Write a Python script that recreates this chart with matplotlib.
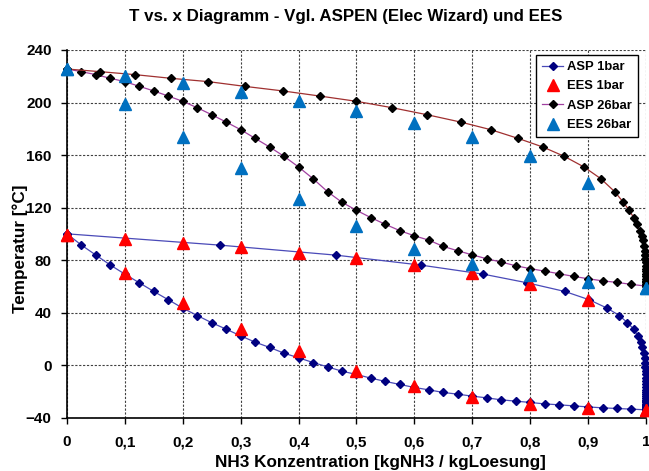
import matplotlib
matplotlib.use("Agg")
import matplotlib.pyplot as plt
from matplotlib.ticker import FuncFormatter, MultipleLocator

plt.rcParams['font.family'] = ['Liberation Sans', 'DejaVu Sans']
plt.rcParams['font.weight'] = 'bold'

# ASPEN 1 bar: Siedelinie (x steigt) und Taulinie (gleiche Temperaturen)
asp1_T = [100, 91.4, 83.8, 76.2, 69.3, 62.7, 56.1, 49.8, 43.4, 37.8, 32.3, 27.4, 22.3,
          17.5, 13.5, 9.1, 5.6, 2.0, -1.3, -4.6, -7.1, -9.9, -12.4, -14.7, -17.0, -18.8,
          -20.8, -22.1, -23.6, -24.9, -26.4, -27.4, -28.4, -29.5, -30.2, -31.0, -31.8,
          -32.5, -33.0, -33.5, -34.0]
asp1_x_liq = [0, 0.025, 0.05, 0.075, 0.1, 0.125, 0.15, 0.175, 0.2, 0.225, 0.25, 0.275, 0.3,
              0.325, 0.35, 0.375, 0.4, 0.425, 0.45, 0.475, 0.5, 0.525, 0.55, 0.575, 0.6, 0.625,
              0.65, 0.675, 0.7, 0.725, 0.75, 0.775, 0.8, 0.825, 0.85, 0.875, 0.9,
              0.925, 0.95, 0.975, 1.0]
asp1_x_vap = [0, 0.264, 0.464, 0.611, 0.719, 0.795, 0.860, 0.902, 0.933, 0.954, 0.968, 0.979, 0.986,
              0.991, 0.994, 0.996, 0.998, 0.9985, 0.999, 0.9993, 0.9995, 0.9996, 0.9997, 0.9998, 0.9998, 0.9999,
              0.9999, 0.9999, 0.9999, 1.0, 1.0, 1.0, 1.0, 1.0, 1.0, 1.0, 1.0,
              1.0, 1.0, 1.0, 1.0]

# ASPEN 26 bar
asp26_T = [225.5, 223.5, 221.2, 218.4, 215.9, 212.3, 208.8, 204.9, 200.9, 196.0, 190.7, 185.1, 179.3,
           172.7, 166.1, 159.0, 150.9, 142.0, 132.1, 124.0, 117.9, 112.3, 107.2, 102.4, 98.5, 95.2,
           90.4, 87.1, 84.0, 81.0, 78.5, 75.7, 73.5, 71.6, 69.6, 67.6, 65.8,
           64.2, 63.0, 61.5, 60.2]
asp26_x_liq = asp1_x_liq
asp26_x_vap = [0, 0.057, 0.118, 0.180, 0.244, 0.307, 0.373, 0.437, 0.500, 0.562, 0.622, 0.680, 0.732,
               0.779, 0.822, 0.859, 0.893, 0.922, 0.946, 0.961, 0.971, 0.979, 0.985, 0.989, 0.993, 0.995,
               0.997, 0.998, 0.9985, 0.999, 0.9993, 0.9995, 0.9996, 0.9997, 0.9998, 0.9999, 0.9999,
               1.0, 1.0, 1.0, 1.0]

# EES Werte
ees_x = [0, 0.1, 0.2, 0.3, 0.4, 0.5, 0.6, 0.7, 0.8, 0.9, 1.0]
ees1_T_liq = [99, 70.3, 47.5, 27.6, 10.9, -4.4, -15.7, -24.5, -29.6, -32.8, -34.0]
ees1_T_vap = [99, 95.7, 92.7, 89.7, 85.6, 81.3, 76.2, 70.3, 61.5, 49.5, -34.0]
ees26_T_liq = [225.4, 199.2, 174.0, 149.8, 126.2, 106.2, 88.6, 76.8, 68.7, 63.3, 59.0]
ees26_T_vap = [225.4, 220.2, 214.6, 208.3, 201.1, 193.5, 184.1, 173.5, 159.2, 138.4, 59.0]


def komma(v, pos):
    if abs(v - round(v)) < 1e-9:
        return f"{int(round(v))}"
    return f"{v:.1f}".replace('.', ',')


fig = plt.figure(figsize=(6.49, 4.71), dpi=100)
ax = fig.add_axes([0.1032, 0.1132, 0.8921, 0.7807])

# ASPEN Kurven
ax.plot(asp1_x_liq, asp1_T, color='#4a4ab8', lw=0.9, marker='D', ms=3.6,
        mfc='#000080', mec='#000080', label='ASP 1bar', zorder=3, clip_on=False)
ax.plot(asp1_x_vap, asp1_T, color='#4a4ab8', lw=0.9, marker='D', ms=3.6,
        mfc='#000080', mec='#000080', zorder=3, clip_on=False)
ax.plot(asp26_x_liq, asp26_T, color='#a040a0', lw=0.9, marker='D', ms=4.2,
        mfc='black', mec='black', label='ASP 26bar', zorder=3, clip_on=False)
ax.plot(asp26_x_vap, asp26_T, color='#a03030', lw=0.9, marker='D', ms=4.2,
        mfc='black', mec='black', zorder=3, clip_on=False)

# EES Punkte
ax.plot(ees_x, ees1_T_liq, ls='none', marker='^', ms=8, color='#ff0000',
        label='EES 1bar', zorder=4, clip_on=False)
ax.plot(ees_x, ees1_T_vap, ls='none', marker='^', ms=8, color='#ff0000', zorder=4, clip_on=False)
ax.plot(ees_x, ees26_T_liq, ls='none', marker='^', ms=8, color='#0070c0',
        label='EES 26bar', zorder=4, clip_on=False)
ax.plot(ees_x, ees26_T_vap, ls='none', marker='^', ms=8, color='#0070c0', zorder=4, clip_on=False)

ax.set_xlim(0, 1)
ax.set_ylim(-40, 240)
ax.xaxis.set_major_locator(MultipleLocator(0.1))
ax.yaxis.set_major_locator(MultipleLocator(40))
ax.xaxis.set_major_formatter(FuncFormatter(komma))
ax.tick_params(axis='both', direction='out', length=4, width=1, labelsize=11)
ax.tick_params(axis='x', pad=8.5)
ax.tick_params(axis='y', pad=7)
for lbl in ax.get_xticklabels() + ax.get_yticklabels():
    lbl.set_fontweight('bold')

ax.grid(True, color='#404040', ls=(0, (2, 1.5)), lw=0.8)
ax.set_axisbelow(True)
for side in ('top', 'right'):
    ax.spines[side].set_visible(False)
ax.spines['left'].set_linewidth(1.2)
ax.spines['bottom'].set_linewidth(1.2)

handles, labels = ax.get_legend_handles_labels()
order = ['ASP 1bar', 'EES 1bar', 'ASP 26bar', 'EES 26bar']
hmap = dict(zip(labels, handles))
leg = ax.legend([hmap[k] for k in order], order, loc='upper right',
                bbox_to_anchor=(0.986, 0.986), fancybox=False, framealpha=1,
                edgecolor='black', fontsize=9.4, handlelength=1.6, handletextpad=0.3,
                borderpad=0.45, labelspacing=0.55, borderaxespad=0)
leg.get_frame().set_linewidth(1.0)
for t in leg.get_texts():
    t.set_fontweight('bold')

fig.text(0.532, 0.964, 'T vs. x Diagramm - Vgl. ASPEN (Elec Wizard) und EES',
         ha='center', va='center', fontsize=12.2, fontweight='bold')
fig.text(0.5855, 0.019, 'NH3 Konzentration [kgNH3 / kgLoesung]',
         ha='center', va='center', fontsize=12.3, fontweight='bold')
fig.text(0.031, 0.471, 'Temperatur [°C]', rotation=90,
         ha='center', va='center', fontsize=12.3, fontweight='bold')

fig.savefig('out.png', dpi=100)
